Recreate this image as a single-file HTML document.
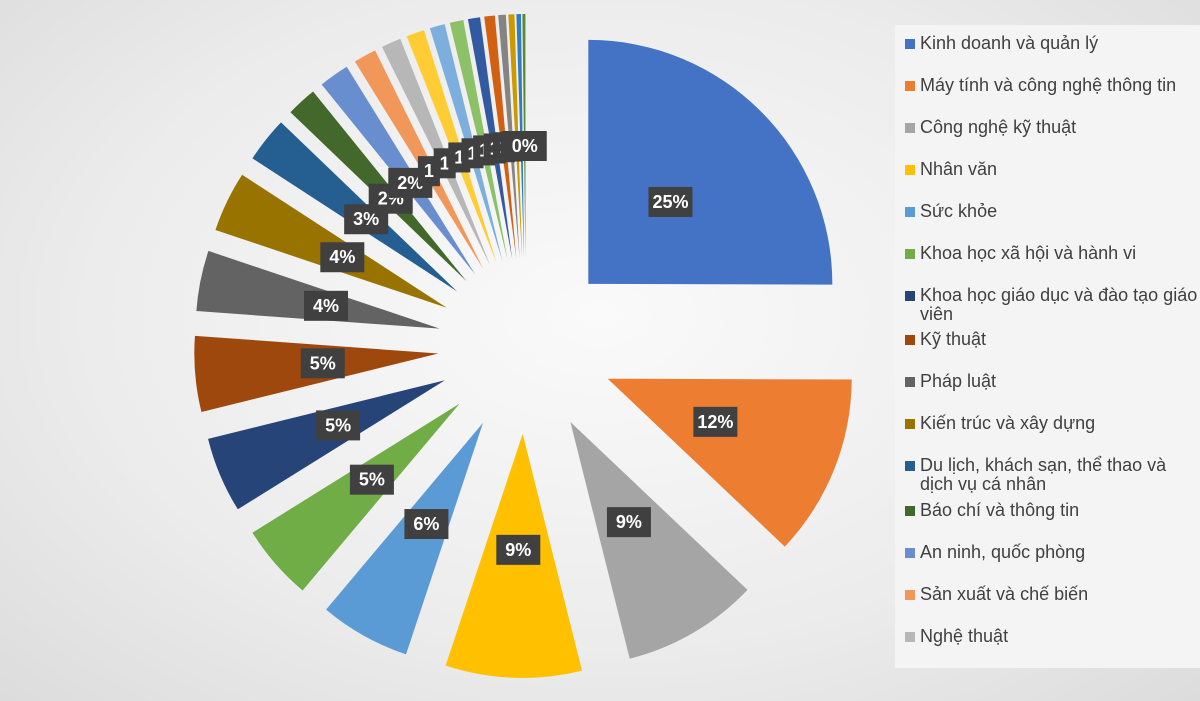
<!DOCTYPE html>
<html><head><meta charset="utf-8"><style>
html,body{margin:0;padding:0}
body{width:1200px;height:701px;overflow:hidden;background:radial-gradient(ellipse at 50% 45%,#fafafa 0%,#ececec 60%,#dcdcdc 100%);font-family:"Liberation Sans",sans-serif;position:relative}
#leg{position:absolute;left:895px;top:25px;width:305px;height:643px;background:#f4f4f4}
.it{position:absolute;left:10px;font-size:18px;color:#404040;line-height:19px}
.it i{position:absolute;left:0;top:5px;width:10px;height:10px}
.it span{display:block;margin-left:15px;white-space:nowrap}
svg{position:absolute;left:0;top:0}
</style></head><body>
<svg id="s" width="1200" height="701"></svg>
<div id="leg"></div>
<script>
var vals=[25,12,9,9,6,5,5,5,4,4,3,2,2,1.5,1.3,1.2,1,0.9,0.8,0.7,0.5,0.4,0.3,0.2];
var cols=["#4472C4","#ED7D31","#A5A5A5","#FFC000","#5B9BD5","#70AD47","#264478","#9E480E","#636363","#997300","#255E91","#43682B","#698ED0","#F1975A","#B7B7B7","#FFCD33","#7CAFDD","#8CC168","#335AA1","#D26012","#848484","#CC9A00","#327DC2","#5A8A39"];
var labs=["25%","12%","9%","9%","6%","5%","5%","5%","4%","4%","3%","2%","2%","1","1","1","1","1","1","1","1","","","0%"];
var tot=vals.reduce(function(a,b){return a+b},0);
var cx=526,cy=346,d=88,R=244,s="",t="",cum=0;
function pt(x,y,a,r){return [x+r*Math.sin(a),y-r*Math.cos(a)];}
for(var i=0;i<vals.length;i++){
 var a0=cum/tot*2*Math.PI;cum+=vals[i];var a1=cum/tot*2*Math.PI;var am=(a0+a1)/2;
 var ap=pt(cx,cy,am,d);var p0=pt(ap[0],ap[1],a0,R),p1=pt(ap[0],ap[1],a1,R);
 s+='<path d="M'+ap[0]+' '+ap[1]+'L'+p0[0]+' '+p0[1]+'A'+R+' '+R+' 0 '+((a1-a0)>Math.PI?1:0)+' 1 '+p1[0]+' '+p1[1]+'Z" fill="'+cols[i]+'"/>';
 if(labs[i]){var lp=pt(ap[0],ap[1],am,i<11?116:112);var w=labs[i].length>1?44:22;
 t+='<rect x="'+(lp[0]-w/2)+'" y="'+(lp[1]-15)+'" width="'+w+'" height="30" fill="#404040"/><text x="'+lp[0]+'" y="'+(lp[1]+6)+'" fill="#fff" font-size="18" font-weight="bold" text-anchor="middle">'+labs[i]+'</text>';}
}
document.getElementById('s').innerHTML=s+t;
var names=["Kinh doanh và quản lý","Máy tính và công nghệ thông tin","Công nghệ kỹ thuật","Nhân văn","Sức khỏe","Khoa học xã hội và hành vi","Khoa học giáo dục và đào tạo giáo<br>viên","Kỹ thuật","Pháp luật","Kiến trúc và xây dựng","Du lịch, khách sạn, thể thao và<br>dịch vụ cá nhân","Báo chí và thông tin","An ninh, quốc phòng","Sản xuất và chế biến","Nghệ thuật"];
var ys=[43,85,127,169,211,253,295,339,381,423,465,510,552,594,636],h="";
for(var j=0;j<names.length;j++){h+='<div class="it" style="top:'+(ys[j]-25-9)+'px"><i style="background:'+cols[j]+'"></i><span>'+names[j]+'</span></div>';}
document.getElementById('leg').innerHTML=h;
</script>
</body></html>
